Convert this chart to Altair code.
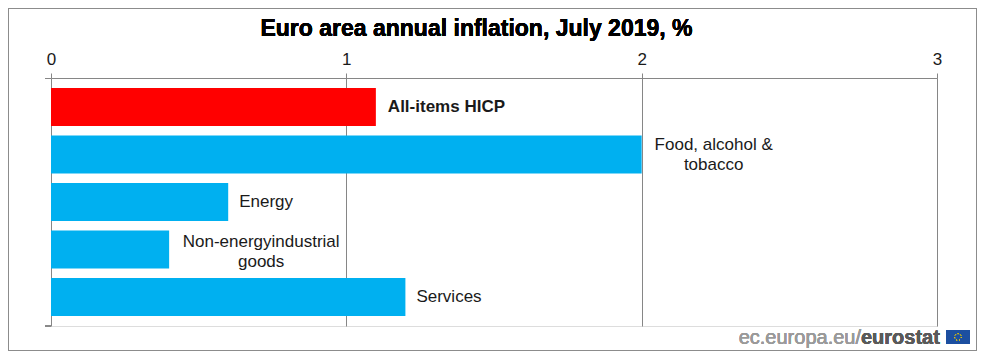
import altair as alt
import pandas as pd

categories = ["All-items HICP", "Food, alcohol & tobacco", "Energy",
              "Non-energy industrial goods", "Services"]
values = [1.1, 2.0, 0.6, 0.4, 1.2]
labels = ["All-items HICP", "Food, alcohol &\ntobacco", "Energy",
          "Non-energyindustrial\ngoods", "Services"]
bar_colors = ["#ff0000", "#00b0f0", "#00b0f0", "#00b0f0", "#00b0f0"]
x_ticks = [0, 1, 2, 3]
title_text = "Euro area annual inflation, July 2019, %"

df = pd.DataFrame({"category": categories, "value": values, "label": labels})

W, H = 886, 248
FONT = "Liberation Sans"

x_scale = alt.Scale(domain=[0, 3], nice=False, zero=True)
y_scale = alt.Scale(domain=categories, paddingInner=0.2, paddingOuter=0.21)

base = alt.Chart(df)

bars = base.mark_bar(size=38).encode(
    x=alt.X("value:Q", scale=x_scale,
            axis=alt.Axis(orient="top", values=x_ticks, format="d", title=None,
                          labelFontSize=17, labelFont=FONT, labelColor="#1a1a1a",
                          labelPadding=5, tickSize=5, tickColor="#868686",
                          domainColor="#868686", grid=True, gridColor="#868686",
                          gridOpacity=1, labelFlush=False)),
    y=alt.Y("category:N", scale=y_scale, axis=None, sort=categories),
    color=alt.Color("category:N", scale=alt.Scale(domain=categories, range=bar_colors),
                    legend=None),
)

def lab(cats, **kw):
    return base.transform_filter(
        alt.FieldOneOfPredicate(field="category", oneOf=cats)
    ).mark_text(baseline="middle", fontSize=17, font=FONT, color="#1a1a1a",
                lineBreak="\n", lineHeight=20, **kw).encode(
        x=alt.X("value:Q", scale=x_scale),
        y=alt.Y("category:N", scale=y_scale, sort=categories),
        text="label:N",
    )

lab_total = lab([categories[0]], align="left", dx=12, fontWeight="bold")
lab_simple = lab([categories[2], categories[4]], align="left", dx=11)
lab_food = lab([categories[1]], align="center", dx=72, dy=-9)
lab_neig = lab([categories[3]], align="center", dx=92, dy=-7.5)

# decorations: outer frame, axis stubs, title, logo
frame = alt.Chart(df).mark_rect(fill=None, stroke="#8c8c8c", strokeWidth=1).encode(
    x=alt.value(-42.5), x2=alt.value(925.5), y=alt.value(-69.5), y2=alt.value(272.5)
)
stub_top = alt.Chart(df).mark_rule(color="#868686").encode(
    x=alt.value(-6), x2=alt.value(0), y=alt.value(0.5)
)
stub_bot = alt.Chart(df).mark_rule(color="#868686").encode(
    x=alt.value(-6), x2=alt.value(0), y=alt.value(H)
)
title = alt.Chart(df).mark_text(
    text=title_text, font=FONT, fontWeight="bold", fontSize=23,
    align="center", baseline="alphabetic", color="#000000"
).encode(x=alt.value(425.5), y=alt.value(-42.5))

logo1 = alt.Chart(df).mark_text(
    text="ec.europa.eu/", font=FONT, fontSize=20, align="right",
    baseline="alphabetic", color="#9a9a9a"
).encode(x=alt.value(810), y=alt.value(266))
logo2 = alt.Chart(df).mark_text(
    text="eurostat", font=FONT, fontSize=20, fontWeight="bold", align="left",
    baseline="alphabetic", color="#5a5a5a"
).encode(x=alt.value(810), y=alt.value(266))
flag = alt.Chart(df).mark_rect(color="#1c4fa0").encode(
    x=alt.value(895), x2=alt.value(919), y=alt.value(252), y2=alt.value(266)
)
stars = alt.Chart(df).mark_point(shape="circle", filled=False, stroke="#f5d000",
                                 strokeWidth=1, size=45, strokeDash=[1, 2]).encode(
    x=alt.value(907), y=alt.value(259)
)

chart = alt.layer(
    frame, bars, stub_top, stub_bot, lab_total, lab_simple, lab_food, lab_neig,
    title, logo1, logo2, flag, stars
).properties(
    width=W, height=H,
    padding={"left": 43, "top": 70, "right": 40, "bottom": 25},
    autosize=alt.AutoSizeParams(type="none"),
).configure_view(stroke=None).configure(background="white")

chart.save("out.html", embed_options={"renderer": "svg", "actions": False})
